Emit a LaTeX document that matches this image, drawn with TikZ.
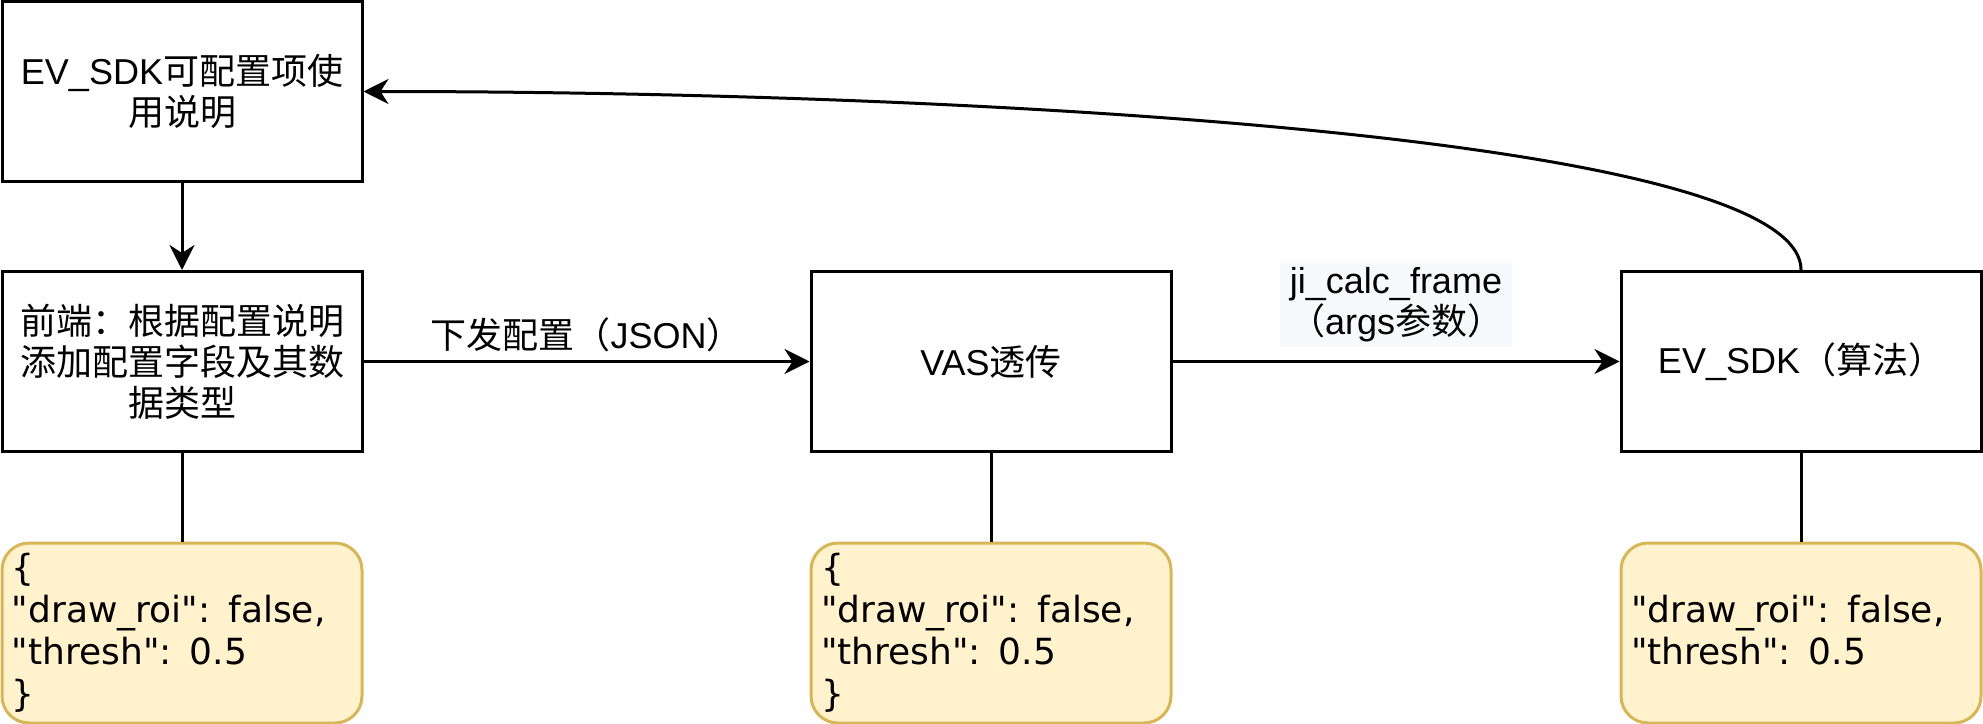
\documentclass[tikz,border=0pt]{standalone}
\usepackage{fontspec}
\setmainfont{Liberation Sans}
\newfontfamily\cjk{Noto Sans CJK SC}
\newfontfamily\dvs{DejaVu Sans}
\usetikzlibrary{arrows.meta}
\newcommand{\zh}[1]{{\cjk #1}}
\definecolor{noteFill}{HTML}{FFF2CC}
\definecolor{noteLine}{HTML}{D6B656}
\definecolor{lblBg}{HTML}{F8F9FA}
\begin{document}
\begin{tikzpicture}[x=1pt,y=-1pt,
  box/.style={draw, line width=3pt, minimum width=360pt, minimum height=180pt, inner sep=0pt, align=center, font=\fontsize{36}{41}\selectfont},
  note/.style={draw=noteLine, fill=noteFill, line width=3pt, rounded corners=27pt, minimum width=360pt, minimum height=180pt, text width=340pt, inner xsep=10pt, inner ysep=0pt, align=left, font=\dvs\fontsize{36}{42}\selectfont},
  link/.style={line width=3pt},
  arr/.style={link, -{Stealth[length=25pt,width=25pt,inset=8pt]}},
  lbl/.style={font=\fontsize{36}{41}\selectfont, align=center, inner sep=0pt}]
\useasboundingbox (0,0) rectangle (1983,723);

\node[box] (b1) at (182,91.5) {EV\_SDK\zh{可配置项使}\\\zh{用说明}};
\node[box] (b2) at (182,361.5) {\zh{前端：根据配置说明}\\\zh{添加配置字段及其数}\\\zh{据类型}};
\node[box] (vas) at (991,361.5) {VAS\zh{透传}};
\node[box] (ev) at (1801,361.5) {EV\_SDK\zh{（算法）}};

\node[note] (y1) at (182,633) {\{\\"draw\_roi": false,\\"thresh": 0.5\\\}};
\node[note] (y2) at (991,633) {\{\\"draw\_roi": false,\\"thresh": 0.5\\\}};
\node[note] (y3) at (1801,633) {\vphantom{\{}\\"draw\_roi": false,\\"thresh": 0.5\\\vphantom{\}}};

\draw[arr] (b1) -- (b2);
\draw[arr] (b2) -- (vas) node[lbl, midway, yshift=26.5pt] (l1) {\zh{下发配置（}JSON\zh{）}};
\draw[arr] (vas) -- (ev) node[lbl, midway, yshift=56.5pt, fill=lblBg, minimum width=232pt, minimum height=84pt] (l2) {ji\_calc\_frame\hspace{10pt}\\\zh{（}args\zh{参数）}};

\draw[link] (b2) -- (y1);
\draw[link] (vas) -- (y2);
\draw[link] (ev) -- (y3);

\draw[arr] (ev.north) .. controls ([yshift=136pt]ev.north) and ([xshift=588pt]b1.east) .. (b1.east);
\end{tikzpicture}
\end{document}
